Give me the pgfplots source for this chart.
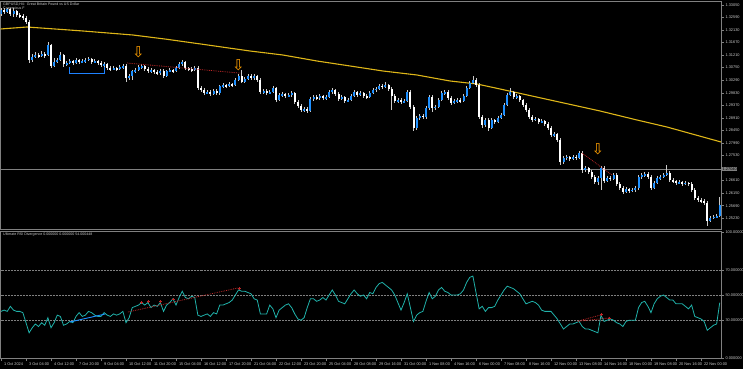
\documentclass[border=0pt]{standalone}
\usepackage{pgfplots}
\pgfplotsset{compat=1.18}
\usepackage{pgfplotstable}
\usepackage{fontspec}
\setmainfont{Liberation Sans}
\newfontfamily\dejavu{DejaVu Sans}
\definecolor{bull}{RGB}{30,144,255}
\definecolor{wick}{RGB}{200,200,200}
\definecolor{ma}{RGB}{222,182,24}
\definecolor{rsicol}{RGB}{32,178,170}
\definecolor{frame}{RGB}{128,128,128}
\definecolor{txt}{RGB}{205,205,205}
\definecolor{arr}{RGB}{255,160,0}
\definecolor{divr}{RGB}{190,40,40}
\definecolor{brk}{RGB}{30,130,255}

\pgfplotstableread{
i o h l c
0 1.3272 1.3294 1.3264 1.3286
1 1.3286 1.3294 1.3272 1.3279
2 1.3279 1.3294 1.3275 1.3290
3 1.3290 1.3294 1.3264 1.3272
4 1.3272 1.3294 1.3261 1.3283
5 1.3283 1.3286 1.3261 1.3268
6 1.3268 1.3275 1.3257 1.3264
7 1.3264 1.3272 1.3250 1.3257
8 1.3257 1.3264 1.3235 1.3242
9 1.3242 1.3250 1.3092 1.3103
10 1.3103 1.3125 1.3096 1.3114
11 1.3114 1.3132 1.3110 1.3121
12 1.3121 1.3129 1.3110 1.3118
13 1.3118 1.3136 1.3114 1.3125
14 1.3125 1.3132 1.3110 1.3121
15 1.3121 1.3169 1.3118 1.3158
16 1.3158 1.3162 1.3074 1.3081
17 1.3081 1.3110 1.3077 1.3096
18 1.3096 1.3110 1.3092 1.3103
19 1.3103 1.3132 1.3099 1.3121
20 1.3121 1.3125 1.3077 1.3088
21 1.3088 1.3099 1.3081 1.3092
22 1.3092 1.3107 1.3088 1.3099
23 1.3099 1.3103 1.3085 1.3092
24 1.3092 1.3110 1.3088 1.3103
25 1.3103 1.3107 1.3088 1.3096
26 1.3096 1.3107 1.3092 1.3099
27 1.3099 1.3110 1.3092 1.3103
28 1.3103 1.3114 1.3099 1.3107
29 1.3107 1.3110 1.3088 1.3096
30 1.3096 1.3107 1.3092 1.3099
31 1.3099 1.3103 1.3085 1.3092
32 1.3092 1.3099 1.3077 1.3085
33 1.3085 1.3096 1.3077 1.3088
34 1.3088 1.3092 1.3066 1.3074
35 1.3074 1.3081 1.3063 1.3070
36 1.3070 1.3081 1.3066 1.3074
37 1.3074 1.3077 1.3063 1.3070
38 1.3070 1.3085 1.3066 1.3077
39 1.3077 1.3088 1.3070 1.3081
40 1.3081 1.3088 1.3022 1.3037
41 1.3037 1.3052 1.3030 1.3044
42 1.3044 1.3066 1.3030 1.3063
43 1.3063 1.3074 1.3055 1.3066
44 1.3066 1.3085 1.3063 1.3077
45 1.3077 1.3088 1.3070 1.3081
46 1.3081 1.3085 1.3063 1.3070
47 1.3070 1.3077 1.3055 1.3063
48 1.3063 1.3074 1.3055 1.3066
49 1.3066 1.3070 1.3052 1.3059
50 1.3059 1.3066 1.3048 1.3055
51 1.3055 1.3070 1.3048 1.3063
52 1.3063 1.3070 1.3037 1.3044
53 1.3044 1.3066 1.3041 1.3063
54 1.3063 1.3074 1.3059 1.3066
55 1.3066 1.3070 1.3055 1.3063
56 1.3063 1.3081 1.3059 1.3074
57 1.3074 1.3096 1.3070 1.3088
58 1.3088 1.3103 1.3081 1.3096
59 1.3096 1.3099 1.3066 1.3074
60 1.3074 1.3077 1.3063 1.3070
61 1.3070 1.3077 1.3059 1.3066
62 1.3066 1.3081 1.3063 1.3074
63 1.3074 1.3081 1.2993 1.3000
64 1.3000 1.3008 1.2986 1.2993
65 1.2993 1.3000 1.2975 1.2982
66 1.2982 1.2993 1.2978 1.2986
67 1.2986 1.2993 1.2971 1.2978
68 1.2978 1.2997 1.2975 1.2989
69 1.2989 1.2997 1.2975 1.2982
70 1.2982 1.3011 1.2975 1.3008
71 1.3008 1.3019 1.3000 1.3011
72 1.3011 1.3015 1.3000 1.3008
73 1.3008 1.3022 1.3004 1.3015
74 1.3015 1.3019 1.3004 1.3011
75 1.3011 1.3037 1.3008 1.3030
76 1.3030 1.3052 1.3026 1.3044
77 1.3044 1.3066 1.3019 1.3022
78 1.3022 1.3041 1.3019 1.3033
79 1.3033 1.3052 1.3030 1.3044
80 1.3044 1.3052 1.3030 1.3037
81 1.3037 1.3052 1.3030 1.3044
82 1.3044 1.3048 1.3022 1.3030
83 1.3030 1.3037 1.2978 1.2986
84 1.2986 1.2997 1.2978 1.2989
85 1.2989 1.2997 1.2975 1.2982
86 1.2982 1.2993 1.2978 1.2986
87 1.2986 1.3008 1.2982 1.3000
88 1.3000 1.3004 1.2949 1.2956
89 1.2956 1.2982 1.2953 1.2975
90 1.2975 1.2986 1.2967 1.2978
91 1.2978 1.2982 1.2964 1.2971
92 1.2971 1.2982 1.2967 1.2975
93 1.2975 1.2989 1.2967 1.2982
94 1.2982 1.2986 1.2942 1.2949
95 1.2949 1.2956 1.2927 1.2934
96 1.2934 1.2942 1.2912 1.2920
97 1.2920 1.2931 1.2912 1.2923
98 1.2923 1.2931 1.2909 1.2916
99 1.2916 1.2967 1.2912 1.2960
100 1.2960 1.2975 1.2953 1.2967
101 1.2967 1.2975 1.2956 1.2964
102 1.2964 1.2978 1.2956 1.2971
103 1.2971 1.2975 1.2956 1.2964
104 1.2964 1.2975 1.2956 1.2967
105 1.2967 1.2993 1.2964 1.2986
106 1.2986 1.3000 1.2978 1.2993
107 1.2993 1.2997 1.2971 1.2978
108 1.2978 1.2986 1.2953 1.2960
109 1.2960 1.2975 1.2956 1.2967
110 1.2967 1.2971 1.2945 1.2953
111 1.2953 1.2964 1.2949 1.2956
112 1.2956 1.2978 1.2953 1.2971
113 1.2971 1.2993 1.2967 1.2986
114 1.2986 1.2989 1.2967 1.2975
115 1.2975 1.2989 1.2971 1.2982
116 1.2982 1.2986 1.2964 1.2971
117 1.2971 1.2978 1.2960 1.2967
118 1.2967 1.2989 1.2964 1.2982
119 1.2982 1.3000 1.2978 1.2993
120 1.2993 1.3004 1.2986 1.2997
121 1.2997 1.3015 1.2993 1.3008
122 1.3008 1.3015 1.2997 1.3004
123 1.3004 1.3022 1.3000 1.3011
124 1.3011 1.3015 1.2989 1.2997
125 1.2997 1.3004 1.2920 1.2971
126 1.2971 1.2978 1.2945 1.2953
127 1.2953 1.2964 1.2945 1.2956
128 1.2956 1.2964 1.2942 1.2949
129 1.2949 1.2960 1.2945 1.2953
130 1.2953 1.2993 1.2949 1.2986
131 1.2986 1.2993 1.2923 1.2931
132 1.2931 1.2938 1.2843 1.2854
133 1.2854 1.2898 1.2846 1.2890
134 1.2890 1.2905 1.2883 1.2898
135 1.2898 1.2905 1.2887 1.2894
136 1.2894 1.2934 1.2887 1.2927
137 1.2927 1.2975 1.2920 1.2967
138 1.2967 1.2975 1.2912 1.2927
139 1.2927 1.2938 1.2920 1.2931
140 1.2931 1.2964 1.2927 1.2956
141 1.2956 1.2989 1.2953 1.2982
142 1.2982 1.2993 1.2975 1.2986
143 1.2986 1.2993 1.2956 1.2964
144 1.2964 1.2971 1.2938 1.2945
145 1.2945 1.2960 1.2942 1.2953
146 1.2953 1.2964 1.2945 1.2956
147 1.2956 1.2964 1.2945 1.2953
148 1.2953 1.2978 1.2949 1.2971
149 1.2971 1.3008 1.2967 1.3000
150 1.3000 1.3026 1.2997 1.3019
151 1.3019 1.3044 1.3015 1.3030
152 1.3030 1.3037 1.3004 1.3011
153 1.3011 1.3019 1.2887 1.2894
154 1.2894 1.2901 1.2854 1.2865
155 1.2865 1.2890 1.2857 1.2883
156 1.2883 1.2890 1.2843 1.2854
157 1.2854 1.2890 1.2850 1.2883
158 1.2883 1.2887 1.2868 1.2876
159 1.2876 1.2898 1.2872 1.2890
160 1.2890 1.2909 1.2887 1.2901
161 1.2901 1.2945 1.2898 1.2938
162 1.2938 1.2982 1.2934 1.2975
163 1.2975 1.3000 1.2971 1.2986
164 1.2986 1.2989 1.2960 1.2967
165 1.2967 1.2978 1.2960 1.2971
166 1.2971 1.2975 1.2949 1.2956
167 1.2956 1.2960 1.2931 1.2938
168 1.2938 1.2945 1.2912 1.2920
169 1.2920 1.2927 1.2887 1.2894
170 1.2894 1.2901 1.2876 1.2883
171 1.2883 1.2894 1.2879 1.2887
172 1.2887 1.2890 1.2868 1.2876
173 1.2876 1.2887 1.2872 1.2879
174 1.2879 1.2883 1.2861 1.2868
175 1.2868 1.2876 1.2846 1.2854
176 1.2854 1.2861 1.2821 1.2828
177 1.2828 1.2839 1.2821 1.2832
178 1.2832 1.2836 1.2803 1.2810
179 1.2810 1.2817 1.2718 1.2729
180 1.2729 1.2751 1.2722 1.2744
181 1.2744 1.2755 1.2737 1.2748
182 1.2748 1.2751 1.2733 1.2740
183 1.2740 1.2755 1.2737 1.2748
184 1.2748 1.2755 1.2737 1.2744
185 1.2744 1.2770 1.2740 1.2762
186 1.2762 1.2770 1.2689 1.2700
187 1.2700 1.2715 1.2693 1.2707
188 1.2707 1.2711 1.2685 1.2693
189 1.2693 1.2700 1.2667 1.2674
190 1.2674 1.2682 1.2649 1.2656
191 1.2656 1.2678 1.2645 1.2671
192 1.2671 1.2715 1.2627 1.2707
193 1.2707 1.2715 1.2652 1.2660
194 1.2660 1.2678 1.2656 1.2671
195 1.2671 1.2678 1.2660 1.2667
196 1.2667 1.2689 1.2663 1.2682
197 1.2682 1.2689 1.2641 1.2649
198 1.2649 1.2656 1.2627 1.2634
199 1.2634 1.2641 1.2612 1.2619
200 1.2619 1.2638 1.2616 1.2630
201 1.2630 1.2634 1.2616 1.2623
202 1.2623 1.2634 1.2619 1.2627
203 1.2627 1.2641 1.2619 1.2634
204 1.2634 1.2682 1.2627 1.2674
205 1.2674 1.2689 1.2667 1.2682
206 1.2682 1.2693 1.2674 1.2685
207 1.2685 1.2693 1.2667 1.2674
208 1.2674 1.2682 1.2627 1.2634
209 1.2634 1.2660 1.2630 1.2652
210 1.2652 1.2678 1.2649 1.2671
211 1.2671 1.2682 1.2663 1.2674
212 1.2674 1.2689 1.2671 1.2682
213 1.2682 1.2718 1.2678 1.2689
214 1.2689 1.2696 1.2656 1.2663
215 1.2663 1.2671 1.2652 1.2660
216 1.2660 1.2663 1.2645 1.2652
217 1.2652 1.2663 1.2649 1.2656
218 1.2656 1.2660 1.2641 1.2649
219 1.2649 1.2660 1.2645 1.2652
220 1.2652 1.2656 1.2641 1.2649
221 1.2649 1.2656 1.2619 1.2627
222 1.2627 1.2634 1.2590 1.2597
223 1.2597 1.2605 1.2583 1.2590
224 1.2590 1.2597 1.2579 1.2586
225 1.2586 1.2594 1.2572 1.2579
226 1.2579 1.2586 1.2495 1.2513
227 1.2513 1.2531 1.2509 1.2524
228 1.2524 1.2535 1.2520 1.2528
229 1.2528 1.2539 1.2524 1.2531
230 1.2531 1.2601 1.2528 1.2572
}\candles

\pgfplotstableread{
i v
0 37
1 38
2 37
3 41
4 38
5 37
6 37
7 36
8 28
9 20
10 24
11 27
12 25
13 28
14 26
15 32
16 24
17 28
18 34
19 33
20 26
21 27
22 29
23 28
24 33
25 36
26 33
27 34
28 37
29 36
30 34
31 33
32 33
33 36
34 34
35 33
36 35
37 34
38 35
39 37
40 28
41 32
42 40
43 41
44 42
45 44
46 42
47 44
48 40
49 42
50 41
51 44
52 37
53 42
54 44
55 47
56 42
57 48
58 53
59 48
60 47
61 49
62 48
63 34
64 33
65 34
66 35
67 33
68 36
69 35
70 42
71 42
72 43
73 44
74 46
75 50
76 54
77 53
78 53
79 52
80 51
81 47
82 46
83 35
84 35
85 35
86 42
87 39
88 32
89 38
90 40
91 42
92 43
93 40
94 35
95 31
96 30
97 32
98 40
99 47
100 47
101 45
102 46
103 48
104 46
105 50
106 54
107 50
108 45
109 44
110 43
111 47
112 51
113 54
114 51
115 49
116 50
117 47
118 52
119 51
120 56
121 59
122 60
123 58
124 56
125 54
126 50
127 44
128 38
129 44
130 51
131 40
132 29
133 34
134 36
135 37
136 45
137 52
138 47
139 49
140 54
141 56
142 53
143 52
144 50
145 50
146 50
147 51
148 54
149 60
150 64
151 65
152 52
153 39
154 41
155 37
156 40
157 40
158 41
159 46
160 50
161 54
162 57
163 56
164 55
165 53
166 51
167 47
168 43
169 44
170 45
171 44
172 42
173 38
174 37
175 37
176 37
177 34
178 31
179 27
180 23
181 25
182 27
183 27
184 28
185 29
186 25
187 23
188 23
189 22
190 21
191 20
192 34
193 29
194 30
195 31
196 30
197 28
198 27
199 25
200 29
201 30
202 30
203 30
204 40
205 44
206 45
207 41
208 36
209 43
210 47
211 49
212 50
213 48
214 46
215 46
216 43
217 43
218 43
219 41
220 39
221 42
222 33
223 32
224 31
225 29
226 22
227 24
228 26
229 27
230 44
}\rsidata

\begin{document}
\begin{tikzpicture}
\useasboundingbox (0,0) rectangle (743bp,369bp);
\fill[black] (0,0) rectangle (743bp,369bp);
\pgfplotsset{
  mtframe/.style={
    scale only axis, anchor=south west, width=720.5bp,
    xmin=-0.16, xmax=230.4,
    axis line style={frame, line width=0.7bp},
    tick style={frame, line width=0.5bp},
    tick align=outside, major tick length=2.5bp,
    ticklabel style={text=txt, font=\fontsize{3.9}{4.5}\selectfont},
    ytick pos=right, yticklabel pos=right,
    yticklabel style={anchor=west, xshift=-1.5bp},
  }
}
% ---------------- price panel ----------------
\begin{axis}[mtframe, at={(0.5bp,140bp)}, height=228bp,
  ymin=1.24837, ymax=1.33193, xtick=\empty,
  scaled y ticks=false,
  ytick={1.3305,1.3259,1.3213,1.3167,1.3121,1.3075,1.3029,1.2983,1.2937,1.2891,1.2845,1.2799,1.2753,1.2661,1.2615,1.2569,1.2523},
  yticklabel style={/pgf/number format/fixed, /pgf/number format/fixed zerofill, /pgf/number format/precision=5, /pgf/number format/assume math mode=true},
  extra y ticks={1.2704},
  extra y tick style={yticklabel style={/tikz/fill=frame, /tikz/text=black, /tikz/inner sep=0.5bp}},
]
% horizontal price line
\addplot[frame, line width=0.5bp, forget plot] coordinates {(-0.16,1.2704) (230.4,1.2704)};
% moving average
\addplot[ma, line width=1.1bp, forget plot] coordinates {
(-0.16,1.32167) (8.3,1.32240) (26.2,1.32094) (42.2,1.31947) (53.1,1.3179)
(63.7,1.3162) (79.7,1.3136) (90.2,1.31214) (101.1,1.30994) (111.7,1.30811)
(122.2,1.30628) (133.1,1.30481) (143.7,1.30261) (152.3,1.30151) (159.7,1.29968)
(175.7,1.29565) (191.7,1.29162) (203.5,1.28832) (213.1,1.28575) (230.4,1.28026)};
% wicks
\addplot[draw=none, forget plot, error bars/.cd, y dir=both, y explicit, error mark=none,
  error bar style={draw=wick, line width=0.6bp}]
  table[x=i, y expr={(\thisrow{h}+\thisrow{l})/2}, y error expr={(\thisrow{h}-\thisrow{l})/2}] {\candles};
% bull bodies
\addplot[draw=none, forget plot,
  restrict expr to domain={\thisrow{c}-\thisrow{o}}{0:1},
  error bars/.cd, y dir=both, y explicit, error mark=none,
  error bar style={draw=bull, line width=2bp}]
  table[x=i, y expr={(\thisrow{o}+\thisrow{c})/2}, y error expr={max(abs(\thisrow{c}-\thisrow{o})/2,0.00007)}] {\candles};
% bear bodies
\addplot[draw=none, forget plot,
  restrict expr to domain={\thisrow{c}-\thisrow{o}}{-1:-0.00001},
  error bars/.cd, y dir=both, y explicit, error mark=none,
  error bar style={draw=white, line width=2bp}]
  table[x=i, y expr={(\thisrow{o}+\thisrow{c})/2}, y error expr={max(abs(\thisrow{c}-\thisrow{o})/2,0.00007)}] {\candles};
% divergence lines on price
\addplot[divr, densely dotted, line width=0.8bp, forget plot] coordinates {(40.3,1.3092) (76.5,1.3055)};
\addplot[divr, densely dotted, line width=0.8bp, forget plot] coordinates {(185.9,1.2762) (195.5,1.2682)};
\addplot[brk, line width=1.2bp, forget plot] coordinates {(21.8,1.3077) (21.8,1.3054) (33,1.3054) (33,1.3077)};
% signal arrows
\addplot[arr, only marks, mark=text, text mark={\dejavu ⇩}, text mark as node=true,
  text mark style={font=\fontsize{15}{15}\selectfont, text=arr}, forget plot]
  coordinates {(44,1.3131) (76,1.3085) (191,1.2777)};
\node[anchor=north west, inner sep=0pt, text=txt, font=\fontsize{3.6}{4.4}\selectfont, align=left, xshift=2.5bp, yshift=-1.5bp]
  at (rel axis cs:0,1) {GBPUSD,H4:\ \ Great Britain Pound vs US Dollar\\Copernicus F};
\end{axis}
% ---------------- RSI panel ----------------
\begin{axis}[mtframe, at={(0.5bp,11bp)}, height=127bp,
  ymin=0, ymax=100.8,
  ytick={0,30,50,70,100},
  yticklabels={0.000000,30.000000,50.000000,70.000000,100.000000},
  xtick pos=bottom,
  xtick={0,8,...,224},
  xticklabels={1 Oct 2024,3 Oct 04:00,4 Oct 12:00,7 Oct 20:00,9 Oct 04:00,10 Oct 12:00,11 Oct 20:00,15 Oct 04:00,16 Oct 12:00,17 Oct 20:00,21 Oct 04:00,22 Oct 12:00,23 Oct 20:00,25 Oct 04:00,28 Oct 08:00,29 Oct 16:00,31 Oct 00:00,1 Nov 08:00,4 Nov 16:00,6 Nov 00:00,7 Nov 08:00,8 Nov 16:00,12 Nov 00:00,13 Nov 08:00,14 Nov 16:00,18 Nov 00:00,19 Nov 08:00,20 Nov 16:00,22 Nov 00:00},
  xticklabel style={anchor=north west, xshift=-0.5bp, yshift=1bp},
]
\addplot[frame, densely dotted, line width=0.5bp, forget plot] coordinates {(-0.16,70) (230.4,70)};
\addplot[frame, densely dotted, line width=0.5bp, forget plot] coordinates {(-0.16,50) (230.4,50)};
\addplot[frame, densely dotted, line width=0.5bp, forget plot] coordinates {(-0.16,30) (230.4,30)};
\addplot[rsicol, line width=0.8bp, forget plot] table[x=i, y=v] {\rsidata};
\addplot[bull, line width=0.9bp, forget plot] coordinates {(22.1,28.6) (33.3,34.9)};
\addplot[divr, densely dotted, line width=0.8bp, forget plot] coordinates {(40.6,36.5) (75.8,55.6)};
\addplot[divr, densely dotted, line width=0.8bp, forget plot] coordinates {(184.6,29.2) (192.2,34.4)};
\addplot[divr, densely dotted, line width=0.8bp, forget plot] coordinates {(184.6,29.2) (194.8,31.8)};
\addplot[divr, only marks, mark=+, mark size=1.4bp, line width=0.6bp, forget plot]
  coordinates {(45,44.2) (47.1,44.7) (51.1,44.7) (55.1,46.8) (76.2,55.3) (192.2,34.4) (194.8,31.8)};
\node[anchor=north west, inner sep=0pt, text=txt, font=\fontsize{3.6}{4.4}\selectfont, xshift=2.5bp, yshift=-2bp]
  at (rel axis cs:0,1) {Ultimate RSI Divergence 0.000000 0.000000 54.000448};
\end{axis}
\end{tikzpicture}
\end{document}
